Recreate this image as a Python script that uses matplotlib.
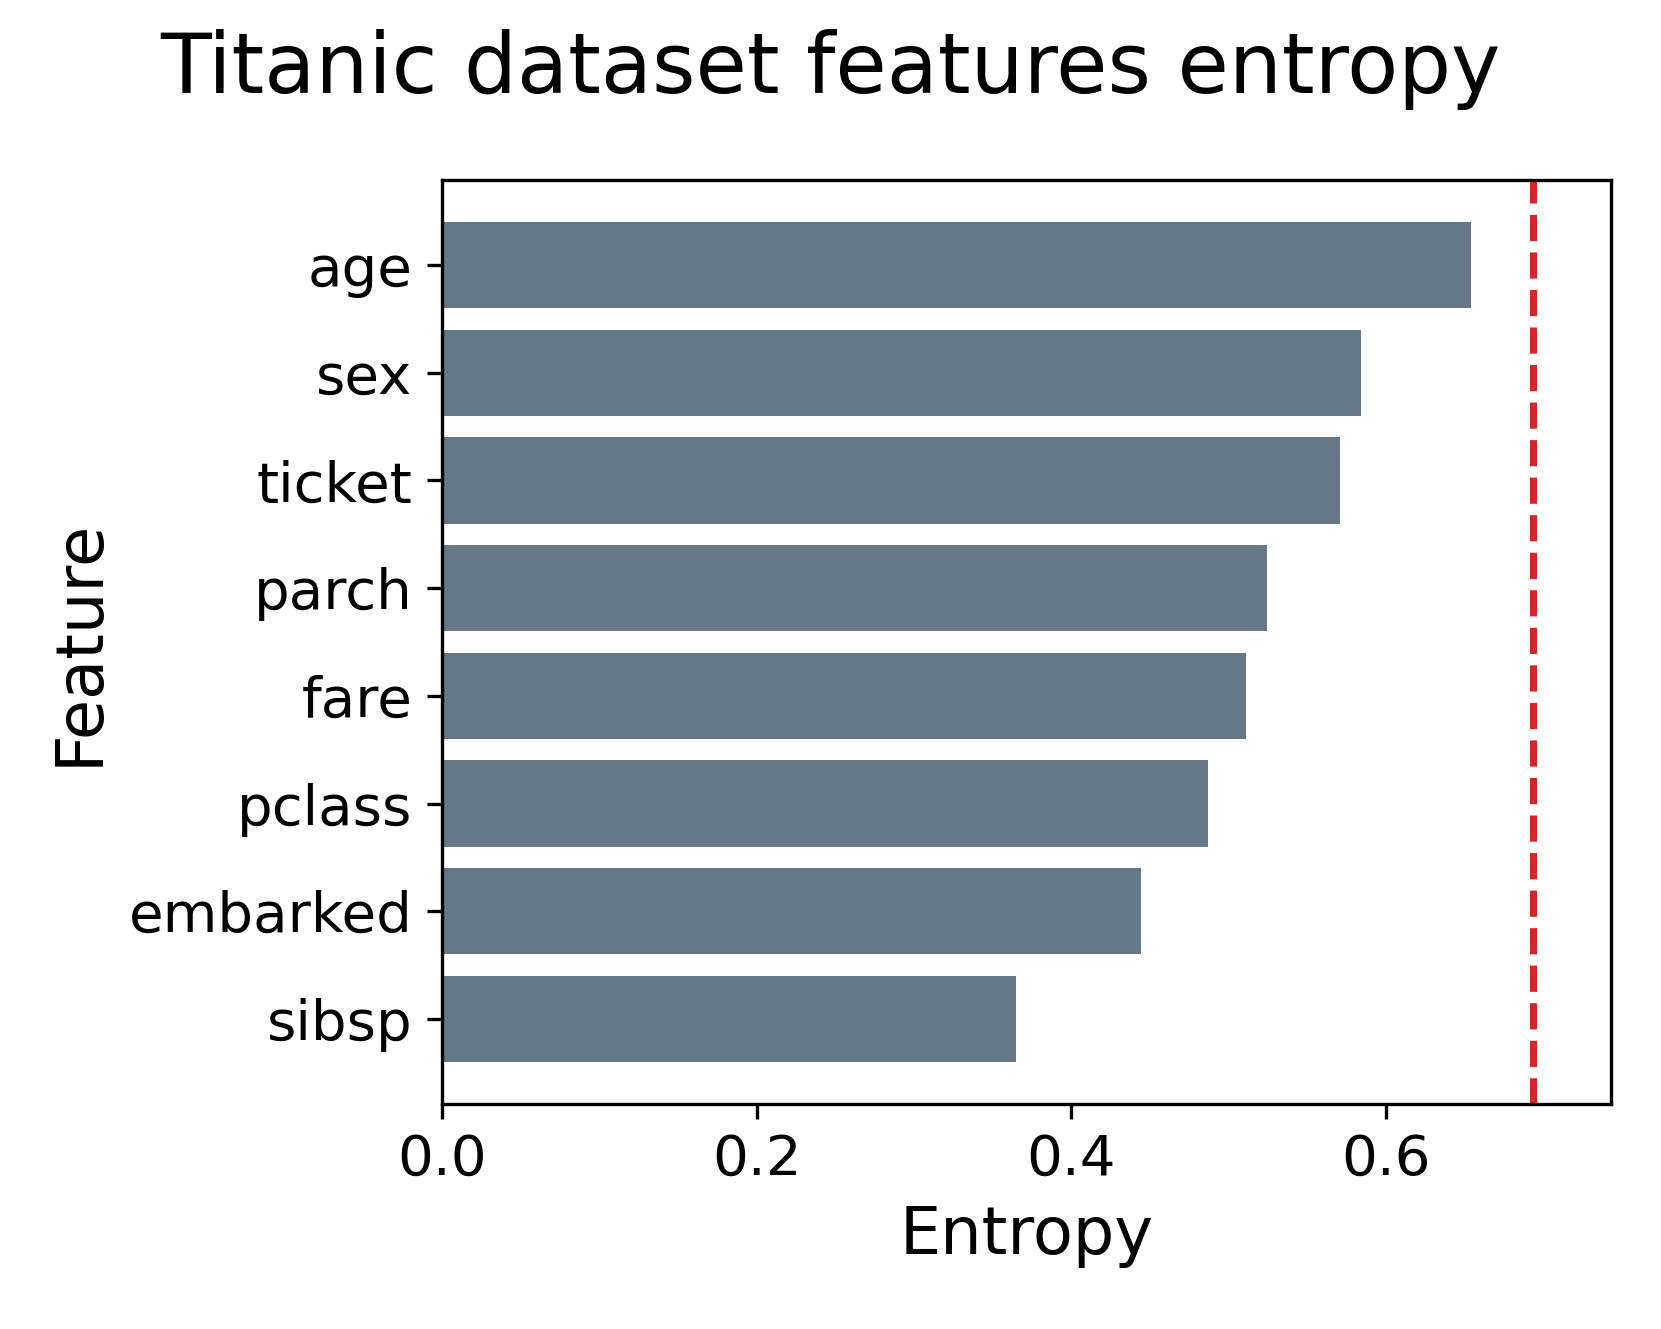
import numpy as np
import matplotlib
matplotlib.use("Agg")
import matplotlib.pyplot as plt

features = ['age', 'sex', 'ticket', 'parch', 'fare', 'pclass', 'embarked', 'sibsp']
entropy = [0.654, 0.584, 0.571, 0.524, 0.511, 0.487, 0.444, 0.365]
max_entropy = np.log(2)

fig = plt.figure(figsize=(1661 / 300, 1329 / 300), dpi=300)
ax = fig.add_axes([0.266, 0.1693, 0.704, 0.6953])

y = np.arange(len(features))[::-1]
ax.barh(y, entropy, height=0.8, color='#667788')
ax.axvline(max_entropy, color='#d62728', linestyle='--', linewidth=1.7)

ax.set_yticks(y)
ax.set_yticklabels(features, fontsize=13.5)
ax.set_xlim(0, 0.743)
ax.set_xticks([0.0, 0.2, 0.4, 0.6])
ax.tick_params(axis='x', labelsize=13.5)
ax.set_xlabel('Entropy', fontsize=15.7)
ax.set_ylabel('Feature', fontsize=15.7)
fig.suptitle('Titanic dataset features entropy', fontsize=20, y=0.978)

fig.savefig('out.png', dpi=300)
